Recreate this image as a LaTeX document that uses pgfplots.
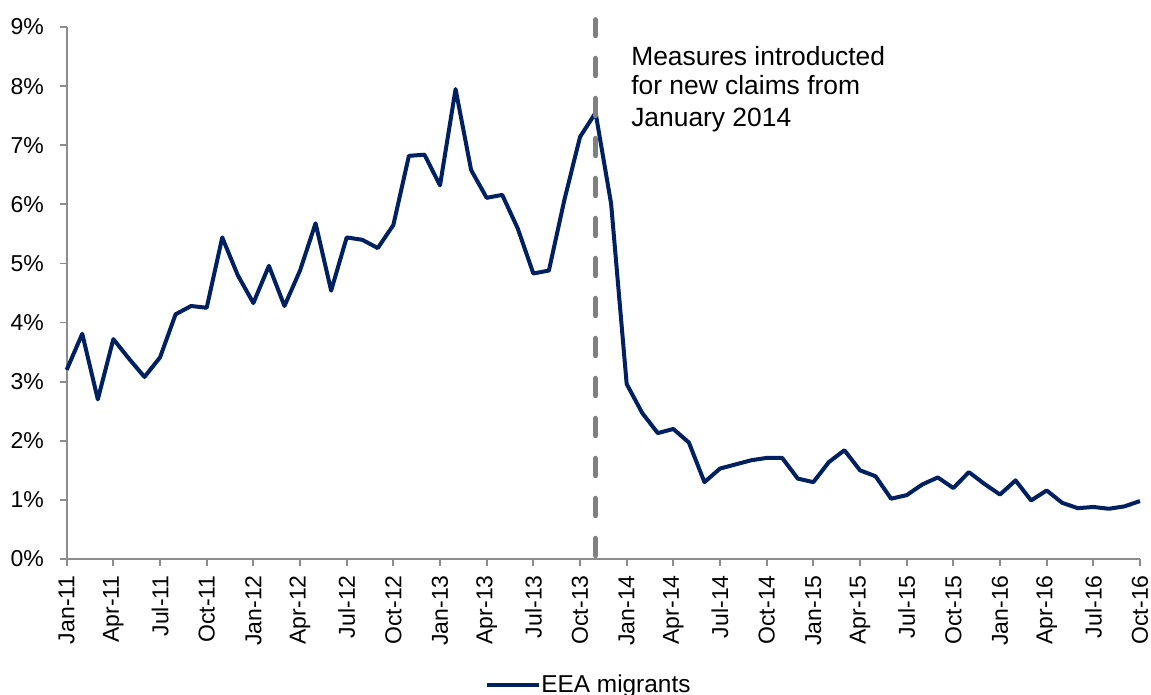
\documentclass[border=0pt]{standalone}
\usepackage{pgfplots}
\pgfplotsset{compat=1.18}
\usepackage{fontspec}
\setmainfont{Liberation Sans}
\definecolor{navy}{RGB}{0,32,96}
\definecolor{axgray}{RGB}{140,140,140}
\definecolor{dashgray}{RGB}{128,128,128}
\begin{document}
\begin{tikzpicture}
\begin{axis}[
  scale only axis,
  width=536.65pt, height=266pt,
  xmin=0, xmax=69, ymin=0, ymax=9,
  axis x line*=bottom, axis y line*=left,
  axis line style={draw=axgray, line width=0.9pt},
  every tick/.style={draw=axgray, line width=0.9pt},
  tick align=outside, major tick length=3.5pt,
  xtick={0,3,...,69},
  xticklabels={Jan-11,Apr-11,Jul-11,Oct-11,Jan-12,Apr-12,Jul-12,Oct-12,Jan-13,Apr-13,Jul-13,Oct-13,Jan-14,Apr-14,Jul-14,Oct-14,Jan-15,Apr-15,Jul-15,Oct-15,Jan-16,Apr-16,Jul-16,Oct-16},
  ytick={0,1,...,9},
  yticklabels={0\%,1\%,2\%,3\%,4\%,5\%,6\%,7\%,8\%,9\%},
  xticklabel style={rotate=90, anchor=east, inner xsep=4.5pt, inner ysep=0pt, font=\fontsize{11.5}{13}\selectfont},
  yticklabel style={anchor=east, inner xsep=7.7pt, inner ysep=0pt, font=\fontsize{11.5}{13}\selectfont},
  clip=false,
  legend style={at={(rel axis cs:0.3897,-0.2368)}, anchor=west, draw=none, fill=none, inner sep=0pt,
    nodes={inner sep=0pt, font=\fontsize{12.2}{14}\selectfont},
    /tikz/column 2/.style={column sep=2pt}},
  legend image code/.code={\draw[#1] (0pt,0pt) -- (26pt,0pt);},
]
\addplot[navy, line width=2pt, line join=round] coordinates {
(0,3.20) (1,3.81) (2,2.70) (3,3.72) (4,3.39) (5,3.08) (6,3.41) (7,4.14) (8,4.28) (9,4.25)
(10,5.44) (11,4.80) (12,4.33) (13,4.96) (14,4.28) (15,4.88) (16,5.68) (17,4.54) (18,5.44) (19,5.40)
(20,5.26) (21,5.65) (22,6.82) (23,6.84) (24,6.32) (25,7.95) (26,6.58) (27,6.11) (28,6.16) (29,5.59)
(30,4.83) (31,4.88) (32,6.08) (33,7.14) (34,7.55) (35,6.01) (36,2.96) (37,2.47) (38,2.13) (39,2.20)
(40,1.97) (41,1.30) (42,1.53) (43,1.60) (44,1.67) (45,1.71) (46,1.71) (47,1.36) (48,1.30) (49,1.64)
(50,1.84) (51,1.50) (52,1.40) (53,1.02) (54,1.08) (55,1.26) (56,1.38) (57,1.20) (58,1.47) (59,1.27)
(60,1.09) (61,1.33) (62,0.99) (63,1.16) (64,0.95) (65,0.86) (66,0.88) (67,0.85) (68,0.89) (69,0.98)
};
\addlegendentry{EEA migrants}
\draw[dashgray, line width=2.75pt, line cap=round, dash pattern=on 8.5pt off 11.5pt, dash phase=18.25pt]
  (axis cs:34,0) -- (axis cs:34,9.12);
\node[anchor=base west, inner sep=0pt, font=\fontsize{13.2}{15.25}\selectfont] at (axis cs:36.27,8.357) {Measures introducted};
\node[anchor=base west, inner sep=0pt, font=\fontsize{13.2}{15.25}\selectfont] at (axis cs:36.27,7.85) {for new claims from};
\node[anchor=base west, inner sep=0pt, font=\fontsize{13.2}{15.25}\selectfont] at (axis cs:36.27,7.325) {January 2014};
\end{axis}
\pgfresetboundingbox
\useasboundingbox (current axis.south west) ++(-33.35pt,-68pt) rectangle ++(575.5pt,347.5pt);
\end{tikzpicture}
\end{document}
